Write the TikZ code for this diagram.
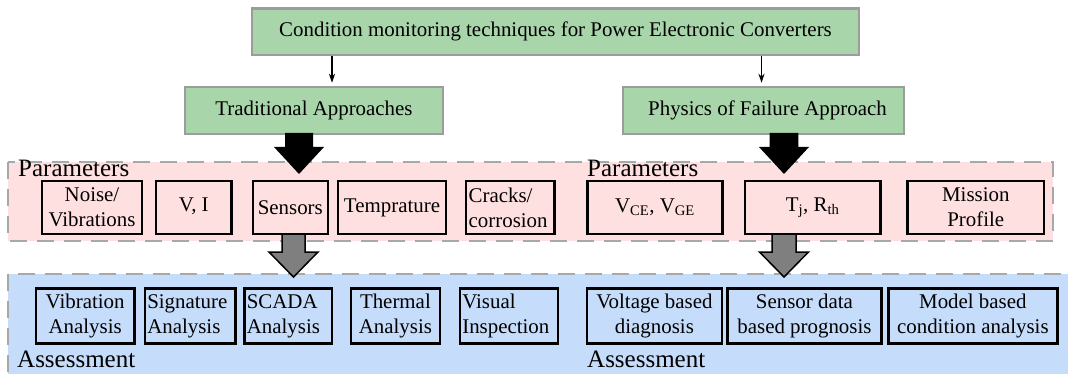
\documentclass[tikz,border=0pt]{standalone}
\usepackage{fontspec}
\setmainfont{LiberationSerif}[Extension=.ttf, UprightFont=*-Regular, BoldFont=*-Bold, ItalicFont=*-Italic, BoldItalicFont=*-BoldItalic]
\usetikzlibrary{arrows.meta}
\definecolor{boxgreen}{HTML}{A9D5AB}
\definecolor{greenborder}{HTML}{9C9C9C}
\definecolor{regpink}{HTML}{FFE0E0}
\definecolor{regblue}{HTML}{C5DCFA}
\definecolor{dashgray}{HTML}{A8A8A8}
\definecolor{arrgray}{HTML}{7F7F7F}
\newcommand\BlockArrow[7]{%
  \path[#1] (#2-#6,#3) -- (#2+#6,#3) -- (#2+#6,#4) -- (#2+#7,#4) -- (#2,#5)
    -- (#2-#7,#4) -- (#2-#6,#4) -- cycle;}
\tikzset{
  txt/.style={font=\rmfamily\fontsize{20.9}{25}\selectfont},
  greenbox/.style={txt, draw=greenborder, fill=boxgreen, line width=2.5pt, inner sep=0pt},
  pbox/.style={txt, draw=black, fill=regpink, line width=2.6pt, inner sep=1.5pt, align=center},
  abox/.style={txt, draw=black, fill=regblue, line width=2.6pt, inner sep=1.5pt, align=center},
  region/.style={draw=dashgray, line width=2.6pt, dash pattern=on 17pt off 10pt},
  biglabel/.style={font=\rmfamily\fontsize{25}{28}\selectfont, anchor=base west, inner sep=0pt},
  thinarrow/.style={draw=black, line width=1.1pt, -{Stealth[length=9pt,width=6pt]}},
  blackblock/.style={fill=black},
  grayblock/.style={fill=arrgray, draw=black, line width=1.5pt, line join=miter},
}
\begin{document}
\begin{tikzpicture}[x=1pt, y=-1pt]
\useasboundingbox (0,0) rectangle (1068,374);
\clip (0,0) rectangle (1068,374);
% regions
\path[region, fill=regpink] (8,162) rectangle (1053,241);
\path[region, fill=regblue] (8,274) rectangle (1080,390);
% top nodes
\node[greenbox, minimum width=607pt, minimum height=46.5pt] (top) at (555.5,31.75)
  {Condition monitoring techniques for Power Electronic Converters};
\node[greenbox, minimum width=258pt, minimum height=47pt] (trad) at (314,110.5)
  {Traditional Approaches};
\node[greenbox, minimum width=281pt, minimum height=47pt] (phys) at (763.5,110.5)
  {\hspace*{8pt}Physics of Failure Approach};
\coordinate (la) at (332,0);
\coordinate (ra) at (761.5,0);
\draw[thinarrow] (top.south -| la) -- ([yshift=3pt]trad.north -| la);
\draw[thinarrow] (top.south -| ra) -- ([yshift=3pt]phys.north -| ra);
% block arrows
\BlockArrow{blackblock}{299}{133}{147}{174}{14}{25}
\BlockArrow{blackblock}{784}{133}{147}{174}{14.3}{25}
\BlockArrow{grayblock}{293.5}{233}{252}{277}{11.5}{24.5}
\BlockArrow{grayblock}{784}{233}{252}{277}{12}{24.5}
% labels
\node[biglabel] (plab1) at (18,177) {Parameters};
\node[biglabel] (plab2) at (587,177) {Parameters};
\node[biglabel] (alab1) at (17,367) {Assessment};
\node[biglabel] (alab2) at (587,367) {Assessment};
% parameter boxes
\node[pbox, minimum width=100pt, minimum height=53pt] (noise) at (92,207.5) {Noise/\\Vibrations};
\node[pbox, minimum width=75.5pt, minimum height=53pt] (vi) at (193.75,207.5) {\raisebox{5pt}{V, I}};
\node[pbox, minimum width=75pt, minimum height=53pt] (sens) at (290.3,207.5) {\raisebox{-5pt}{Sensors}};
\node[pbox, minimum width=108pt, minimum height=53pt] (temp) at (392,207.5) {Temprature};
\node[pbox, minimum width=88.4pt, minimum height=53pt, text width=83pt, align=left] (crack) at (510.2,207.5) {Cracks/\\corrosion};
\node[pbox, minimum width=135pt, minimum height=53pt] (vce) at (655,207.5) {V\textsubscript{CE}, V\textsubscript{GE}};
\node[pbox, minimum width=135.4pt, minimum height=53pt] (tj) at (812.7,207.5) {\raisebox{-3pt}{T\textsubscript{j}, R\textsubscript{th}}};
\node[pbox, minimum width=136.4pt, minimum height=53pt] (mission) at (975.8,207.5) {Mission\\Profile};
% assessment boxes
\node[abox, minimum width=98.7pt, minimum height=55pt] (vib) at (85.15,316) {Vibration\\Analysis};
\node[abox, minimum width=90.9pt, minimum height=55pt, text width=86pt, align=left] (sig) at (190.25,316) {Signature\\Analysis};
\node[abox, minimum width=87.4pt, minimum height=55pt, text width=83pt, align=left] (scada) at (288.3,316) {SCADA\\Analysis};
\node[abox, minimum width=89.2pt, minimum height=55pt] (therm) at (395.4,316) {Thermal\\Analysis};
\node[abox, minimum width=98pt, minimum height=55pt, text width=93pt, align=left] (visual) at (508.8,316) {Visual\\Inspection};
\node[abox, minimum width=135.2pt, minimum height=55pt] (volt) at (654.4,316) {Voltage based\\diagnosis};
\node[abox, minimum width=153.9pt, minimum height=55pt] (sdata) at (804.45,316) {Sensor data\\based prognosis};
\node[abox, minimum width=169.3pt, minimum height=55pt] (model) at (972.85,316) {Model based\\condition analysis};
\end{tikzpicture}
\end{document}
